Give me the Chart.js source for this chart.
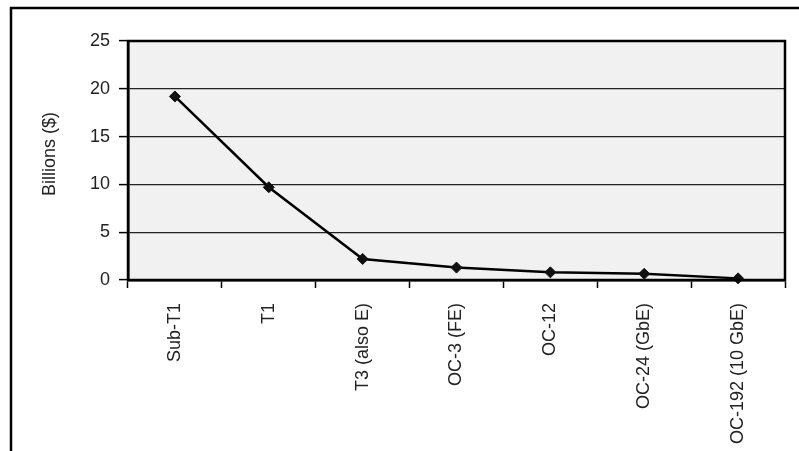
<!DOCTYPE html>
<html>
<head>
<meta charset="utf-8">
<script src="https://cdn.jsdelivr.net/npm/chart.js@4/dist/chart.umd.min.js"></script>
<style>
  html, body { margin: 0; padding: 0; background: #fff; }
  #wrap { position: relative; width: 799px; height: 451px; }
</style>
</head>
<body>
<div id="wrap"><canvas id="chart" width="799" height="451"></canvas></div>
<script>
// data
const categories = ['Sub-T1', 'T1', 'T3 (also E)', 'OC-3 (FE)', 'OC-12', 'OC-24 (GbE)', 'OC-192 (10 GbE)'];
const billions = [19.2, 9.7, 2.2, 1.3, 0.8, 0.65, 0.17];
const yTicks = [0, 5, 10, 15, 20, 25];
const yTitle = 'Billions ($)';

const fontFamily = "'Liberation Sans', Arial, sans-serif";

// grey plot area, outer frame and the y title
const framePlugin = {
    id: 'frame',
    beforeDraw(chart) {
        const {ctx, chartArea: a} = chart;
        ctx.save();
        ctx.fillStyle = '#f1f1f1';
        ctx.fillRect(a.left, a.top, a.right - a.left, a.bottom - a.top);
        ctx.strokeStyle = '#000';
        ctx.lineWidth = 2.5;
        ctx.beginPath();
        ctx.moveTo(11, 451);
        ctx.lineTo(11, 8);
        ctx.lineTo(799, 8);
        ctx.stroke();

        // axis title, rotated
        ctx.translate(50, 154);
        ctx.rotate(-Math.PI / 2);
        ctx.fillStyle = '#222';
        ctx.font = '18px ' + fontFamily;
        ctx.textAlign = 'center';
        ctx.textBaseline = 'middle';
        ctx.fillText(yTitle, 0, 0);
        ctx.restore();
    },
    afterDatasetsDraw(chart) {
        const {ctx, chartArea: a} = chart;
        ctx.save();
        ctx.strokeStyle = '#000';
        ctx.lineWidth = 2.5;
        ctx.strokeRect(a.left, a.top, a.right - a.left, a.bottom - a.top);
        ctx.restore();
    }
};

const ctx = document.getElementById('chart').getContext('2d');

new Chart(ctx, {
    type: 'line',
    data: {
        labels: categories,
        datasets: [{
            data: billions,
            borderColor: '#000',
            borderWidth: 2.5,
            pointStyle: 'rectRot',
            pointRadius: 5.5,
            pointBackgroundColor: '#111',
            pointBorderColor: '#111',
            pointBorderWidth: 1,
            tension: 0,
            clip: false
        }]
    },
    options: {
        responsive: false,
        animation: false,
        layout: { padding: { top: 41, right: 14, left: 0, bottom: 0 } },
        plugins: {
            legend: { display: false },
            tooltip: { enabled: false }
        },
        scales: {
            x: {
                offset: true,
                afterFit: (s) => { s.height = 171; },
                grid: {
                    offset: true,
                    drawOnChartArea: false,
                    drawTicks: true,
                    tickLength: 8,
                    tickWidth: 1.5,
                    tickColor: '#000'
                },
                border: { display: true, color: '#000', width: 2.5 },
                ticks: {
                    minRotation: 90,
                    maxRotation: 90,
                    autoSkip: false,
                    padding: 15,
                    color: '#222',
                    font: { family: fontFamily, size: 18 }
                }
            },
            y: {
                min: 0,
                max: 25,
                afterFit: (s) => { s.width = 128; },
                afterBuildTicks: (s) => { s.ticks = yTicks.map(v => ({ value: v })); },
                grid: {
                    color: '#222',
                    lineWidth: 1.2,
                    drawTicks: true,
                    tickLength: 9,
                    tickColor: '#000',
                    tickWidth: 1.5
                },
                border: { display: true, color: '#000', width: 2.5 },
                ticks: {
                    padding: 9,
                    color: '#222',
                    font: { family: fontFamily, size: 18 }
                }
            }
        }
    },
    plugins: [framePlugin]
});
</script>
</body>
</html>
